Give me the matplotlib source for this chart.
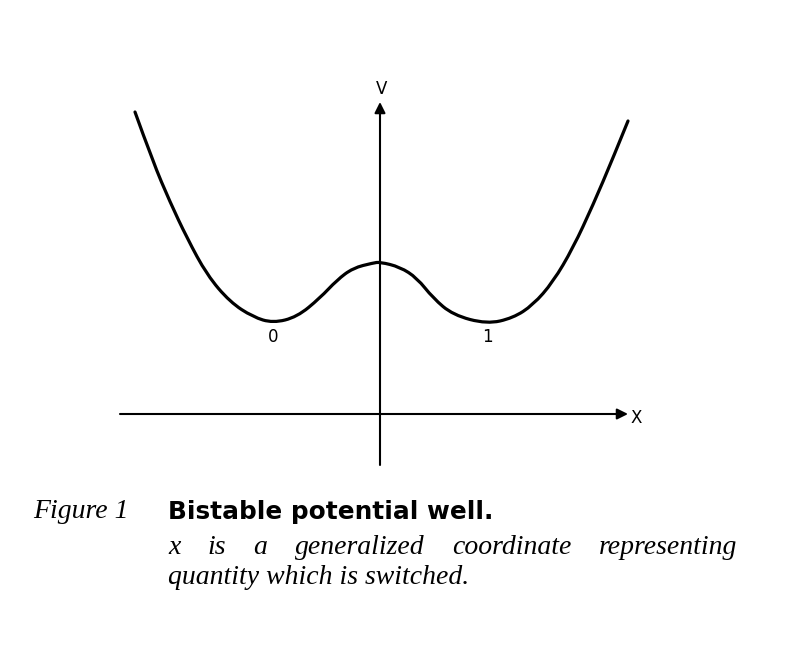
#! /usr/bin/python3
# Bistable potential well (double-well curve) with caption

import matplotlib
matplotlib.use('Agg')
import matplotlib.pyplot as plt
from matplotlib.path import Path
from matplotlib.patches import PathPatch

well_x = [-245, -227, -210, -193, -173, -150, -127, -107, -83, -60, -43, -27, -7, 0,
          20, 37, 53, 73, 107, 133, 153, 173, 193, 213, 233, 248]
well_v = [302, 252, 212, 176, 139, 112, 97, 91, 97, 116, 134, 146, 151, 152,
          147, 136, 116, 99, 90, 96, 109, 132, 166, 209, 256, 293]

state_labels = ['0', '1']
state_x = [-107, 107]

caption_tag = 'Figure 1'
caption_title = 'Bistable potential well.'
caption_lines = ['x is a generalized coordinate representing',
                 'quantity which is switched.']

fig = plt.figure(figsize=(8.1, 6.46), dpi=100)
ax = fig.add_axes([0, 0, 1, 1])
ax.set_xlim(-380, 430)
ax.set_ylim(414 - 646, 414)
ax.axis('off')

# axes with arrow heads
arrow = dict(arrowstyle='-|>', color='black', lw=1.5, mutation_scale=16, shrinkA=0, shrinkB=0)
ax.annotate('', xy=(248, 0), xytext=(-260, 0), arrowprops=arrow)
ax.annotate('', xy=(0, 312), xytext=(0, -51), arrowprops=arrow)
ax.text(2, 325, 'V', ha='center', va='center', fontsize=12, family='DejaVu Sans')
ax.text(256, -4, 'X', ha='center', va='center', fontsize=12, family='DejaVu Sans')

# smooth curve: read points used as quadratic control points
pts = list(zip(well_x, well_v))
verts = [pts[0]]
codes = [Path.MOVETO]
for i in range(1, len(pts) - 2):
    mid = ((pts[i][0] + pts[i + 1][0]) / 2, (pts[i][1] + pts[i + 1][1]) / 2)
    verts += [pts[i], mid]
    codes += [Path.CURVE3, Path.CURVE3]
verts += [pts[-2], pts[-1]]
codes += [Path.CURVE3, Path.CURVE3]
ax.add_patch(PathPatch(Path(verts, codes), fill=False, lw=2.3, ec='black', capstyle='round'))

for lab, xs in zip(state_labels, state_x):
    ax.text(xs, 77, lab, ha='center', va='center', fontsize=12, family='DejaVu Sans')

# caption
left, right = -212, 357
ax.text(-347, -98, caption_tag, ha='left', va='center', fontsize=20,
        family='Liberation Serif', style='italic')
ax.text(left, -98, caption_title, ha='left', va='center', fontsize=17.8,
        family='DejaVu Sans', weight='bold')

# first line is justified between left and right edge
fig.canvas.draw()
renderer = fig.canvas.get_renderer()
words = caption_lines[0].split()
items = []
for w in words:
    t = ax.text(0, -133, w, ha='left', va='center', fontsize=20,
                family='Liberation Serif', style='italic')
    bb = t.get_window_extent(renderer)
    items.append((t, bb.width))
total = sum(wd for _, wd in items)
gap = ((right - left) - total) / (len(items) - 1)
pos = left
for t, wd in items:
    t.set_x(pos)
    pos += wd + gap

ax.text(left, -164, caption_lines[1], ha='left', va='center', fontsize=20,
        family='Liberation Serif', style='italic')

fig.savefig('out.png', dpi=100)
